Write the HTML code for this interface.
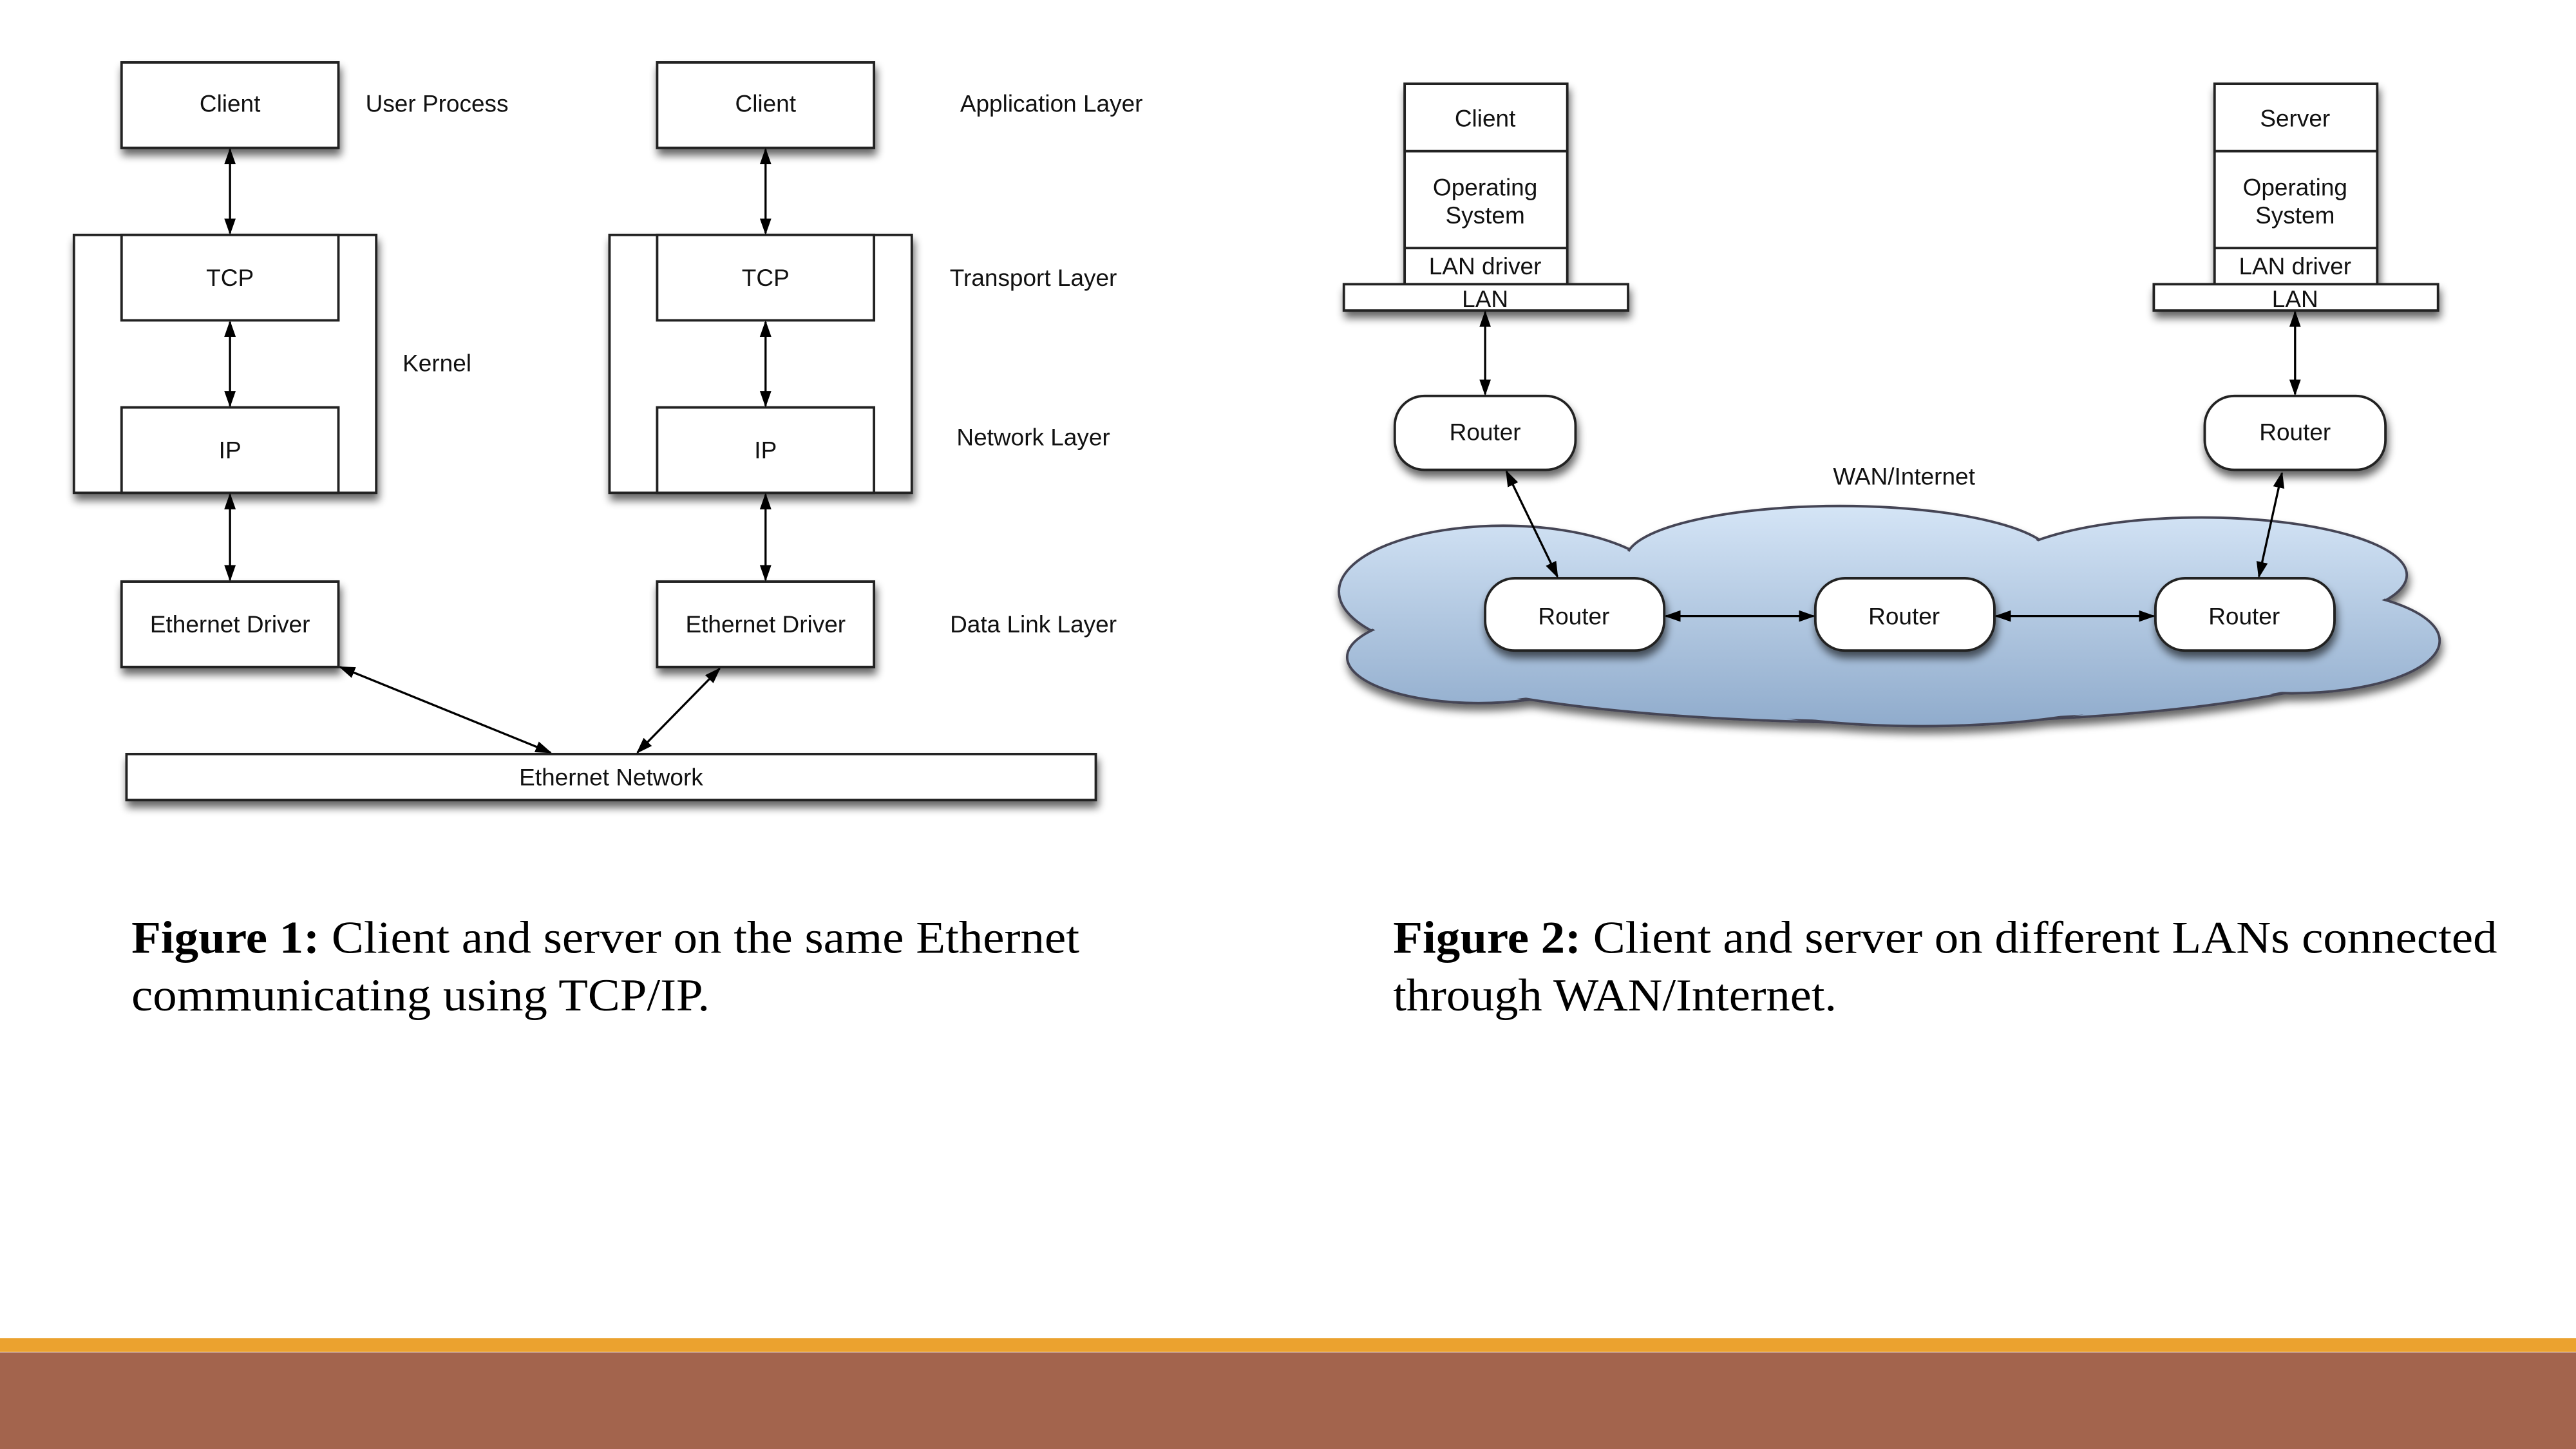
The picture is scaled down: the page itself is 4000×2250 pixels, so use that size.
<!DOCTYPE html>
<html><head><meta charset="utf-8"><style>
html,body{margin:0;padding:0;background:#fff;}
svg{display:block;}
</style></head><body>
<svg width="4000" height="2250" viewBox="0 0 1568 882" preserveAspectRatio="none" xmlns="http://www.w3.org/2000/svg">
<defs>
<filter id="sh" x="-20%" y="-20%" width="140%" height="160%">
<feGaussianBlur in="SourceAlpha" stdDeviation="2.5"/>
<feOffset dx="1" dy="4" result="o"/>
<feComponentTransfer><feFuncA type="linear" slope="0.6"/></feComponentTransfer>
<feMerge><feMergeNode/><feMergeNode in="SourceGraphic"/></feMerge>
</filter>
<linearGradient id="cg" gradientUnits="userSpaceOnUse" x1="0" y1="305" x2="0" y2="445">
<stop offset="0" stop-color="#d6e6f7"/><stop offset="1" stop-color="#8eaacb"/>
</linearGradient>
<marker id="ah" viewBox="0 0 10 10" refX="9" refY="5" markerWidth="10" markerHeight="10" orient="auto-start-reverse" markerUnits="userSpaceOnUse">
<path d="M0,1.5 L10,5 L0,8.5 z" fill="#000"/>
</marker>
</defs>
<g font-family="Liberation Sans, sans-serif" font-size="14.5" fill="#111" text-anchor="middle">
<g stroke="#222" stroke-width="1.5" fill="#fff" filter="url(#sh)">
<rect x="74" y="38" width="132" height="52"/>
<rect x="400" y="38" width="132" height="52"/>
<rect x="45" y="143" width="184" height="157"/>
<rect x="371" y="143" width="184" height="157"/>
<rect x="74" y="354" width="132" height="52"/>
<rect x="400" y="354" width="132" height="52"/>
<rect x="77" y="459" width="590" height="28"/>
</g>
<g stroke="#222" stroke-width="1.5" fill="#fff">
<rect x="74" y="143" width="132" height="52"/>
<rect x="74" y="248" width="132" height="52"/>
<rect x="400" y="143" width="132" height="52"/>
<rect x="400" y="248" width="132" height="52"/>
</g>
<g stroke="#000" stroke-width="1.3" marker-start="url(#ah)" marker-end="url(#ah)">
<line x1="140" y1="91" x2="140" y2="142"/>
<line x1="140" y1="196" x2="140" y2="247"/>
<line x1="140" y1="301" x2="140" y2="353"/>
<line x1="466" y1="91" x2="466" y2="142"/>
<line x1="466" y1="196" x2="466" y2="247"/>
<line x1="466" y1="301" x2="466" y2="353"/>
<line x1="207" y1="406" x2="335" y2="458"/>
<line x1="438" y1="407" x2="388" y2="458"/>
</g>
<text x="140" y="68">Client</text>
<text x="466" y="68">Client</text>
<text x="140" y="174">TCP</text>
<text x="466" y="174">TCP</text>
<text x="140" y="279">IP</text>
<text x="466" y="279">IP</text>
<text x="140" y="385">Ethernet Driver</text>
<text x="466" y="385">Ethernet Driver</text>
<text x="372" y="478">Ethernet Network</text>
<text x="266" y="68">User Process</text>
<text x="266" y="226">Kernel</text>
<text x="640" y="68">Application Layer</text>
<text x="629" y="174">Transport Layer</text>
<text x="629" y="271">Network Layer</text>
<text x="629" y="385">Data Link Layer</text>

<g filter="url(#sh)">
<g stroke="#445" stroke-width="1.5" fill="url(#cg)">
<ellipse cx="915" cy="360" rx="100" ry="40"/>
<ellipse cx="1120" cy="340" rx="130" ry="32"/>
<ellipse cx="1340" cy="350" rx="125" ry="35"/>
<ellipse cx="900" cy="400" rx="80" ry="28"/>
<ellipse cx="1150" cy="395" rx="300" ry="45"/>
<ellipse cx="1395" cy="390" rx="90" ry="32"/>
<ellipse cx="1170" cy="410" rx="150" ry="32"/>
</g>
<g fill="url(#cg)">
<ellipse cx="915" cy="360" rx="98.5" ry="38.5"/>
<ellipse cx="1120" cy="340" rx="128.5" ry="30.5"/>
<ellipse cx="1340" cy="350" rx="123.5" ry="33.5"/>
<ellipse cx="900" cy="400" rx="78.5" ry="26.5"/>
<ellipse cx="1150" cy="395" rx="298.5" ry="43.5"/>
<ellipse cx="1395" cy="390" rx="88.5" ry="30.5"/>
<ellipse cx="1170" cy="410" rx="148.5" ry="30.5"/>
</g>
</g>
<g stroke="#222" stroke-width="1.5" fill="#fff" filter="url(#sh)">
<rect x="855" y="51" width="99" height="122"/>
<rect x="1348" y="51" width="99" height="122"/>
<rect x="818" y="173" width="173" height="16"/>
<rect x="1311" y="173" width="173" height="16"/>
<rect x="849" y="241" width="110" height="45" rx="18"/>
<rect x="1342" y="241" width="110" height="45" rx="18"/>
<rect x="904" y="352" width="109" height="44" rx="18"/>
<rect x="1105" y="352" width="109" height="44" rx="18"/>
<rect x="1312" y="352" width="109" height="44" rx="18"/>
</g>
<g stroke="#222" stroke-width="1.5">
<line x1="855" y1="92" x2="954" y2="92"/>
<line x1="855" y1="151" x2="954" y2="151"/>
<line x1="1348" y1="92" x2="1447" y2="92"/>
<line x1="1348" y1="151" x2="1447" y2="151"/>
</g>
<g stroke="#000" stroke-width="1.3" marker-start="url(#ah)" marker-end="url(#ah)">
<line x1="904" y1="190" x2="904" y2="240"/>
<line x1="1397" y1="190" x2="1397" y2="240"/>
<line x1="917" y1="287" x2="948" y2="351"/>
<line x1="1389" y1="288" x2="1375" y2="351"/>
<line x1="1014" y1="375" x2="1104" y2="375"/>
<line x1="1215" y1="375" x2="1311" y2="375"/>
</g>
<text x="904" y="77">Client</text>
<text x="904" y="119">Operating</text>
<text x="904" y="136">System</text>
<text x="904" y="167">LAN driver</text>
<text x="904" y="187">LAN</text>
<text x="1397" y="77">Server</text>
<text x="1397" y="119">Operating</text>
<text x="1397" y="136">System</text>
<text x="1397" y="167">LAN driver</text>
<text x="1397" y="187">LAN</text>
<text x="904" y="268">Router</text>
<text x="1397" y="268">Router</text>
<text x="958" y="380">Router</text>
<text x="1159" y="380">Router</text>
<text x="1366" y="380">Router</text>
<text x="1159" y="295">WAN/Internet</text>
</g>
<g font-family="Liberation Serif, serif" font-size="28" fill="#000">
<text x="80" y="580" textLength="577" lengthAdjust="spacingAndGlyphs"><tspan font-weight="bold">Figure 1:</tspan> Client and server on the same Ethernet</text>
<text x="80" y="615" textLength="352" lengthAdjust="spacingAndGlyphs">communicating using TCP/IP.</text>
<text x="848" y="580" textLength="672" lengthAdjust="spacingAndGlyphs"><tspan font-weight="bold">Figure 2:</tspan> Client and server on different LANs connected</text>
<text x="848" y="615" textLength="270" lengthAdjust="spacingAndGlyphs">through WAN/Internet.</text>
</g>
<rect x="0" y="814.6" width="1568" height="8.2" fill="#eba22f"/>
<rect x="0" y="823.2" width="1568" height="59" fill="#a3644d"/>
</svg>
</body></html>
